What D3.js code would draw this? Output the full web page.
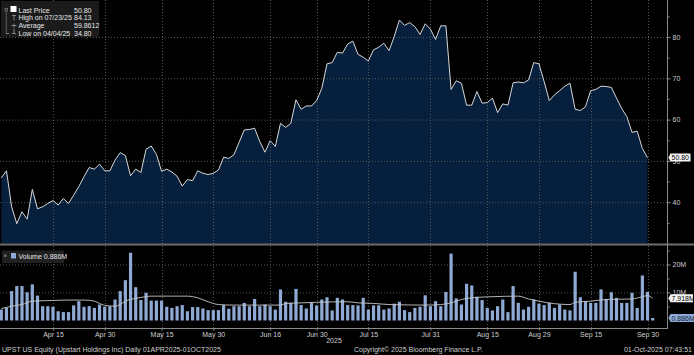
<!DOCTYPE html>
<html>
<head>
<meta charset="utf-8" />
<title>UPST US Equity</title>
<style>
    body { margin: 0; background: #000; }
    svg { display: block; }
    text {
        font-family: "Liberation Sans Narrow", "Liberation Sans", Arial, sans-serif;
        font-size: 7px;
        fill: #cfcfcf;
    }
    .grid line { stroke: #555; stroke-dasharray: 1,2; }
    .axis path { display: none; }
    .axis line { stroke: #8a8a8a; }
</style>
<script src="https://d3js.org/d3.v7.min.js"></script>
</head>
<body>
<script>

// closing prices, 01-Apr-2025 .. 30-Sep-2025 (one per trading day)
let price = [
    45.9, 47.6, 38.9, 34.8, 37.7, 35.9, 43.1, 38.4, 38.9, 39.7,
    40.4, 39.3, 40.9, 39.7, 41.7, 43.8, 46.2, 48.4, 48.0, 49.2,
    47.6, 47.6, 50.2, 52.0, 51.3, 46.4, 48.0, 47.2, 52.8, 53.6,
    51.6, 47.5, 48.0, 47.3, 46.3, 43.9, 45.5, 45.2, 47.6, 47.0,
    46.7, 47.0, 47.8, 50.9, 50.6, 51.5, 54.5, 57.5, 57.6, 57.9,
    54.7, 52.1, 54.9, 53.5, 59.1, 58.1, 59.1, 64.8, 62.5, 63.3,
    63.3, 64.6, 67.6, 73.5, 73.8, 76.3, 76.1, 78.3, 79.0, 75.8,
    75.1, 74.2, 76.9, 77.5, 78.5, 76.7, 80.1, 84.13, 82.8, 83.5,
    82.5, 80.6, 83.2, 81.9, 79.4, 82.7, 82.7, 67.3, 69.4, 68.8,
    63.5, 63.5, 66.8, 64.0, 64.1, 65.2, 61.7, 63.8, 63.5, 68.9,
    69.1, 68.9, 69.6, 73.8, 73.5, 69.2, 64.6, 66.0, 67.0, 68.1,
    68.8, 62.5, 62.2, 63.1, 67.0, 67.3, 68.1, 68.0, 67.8, 65.2,
    62.7, 60.7, 56.9, 57.2, 53.0, 50.80
];

// volume in millions, 01-Apr-2025 .. 01-Oct-2025
let volume = [
    3.9, 4.5, 10.5, 12.3, 12.3, 10.1, 12.9, 8.9, 5.1, 5.1,
    4.9, 3.3, 3.0, 3.0, 5.4, 6.9, 4.9, 5.1, 4.5, 5.7,
    4.9, 5.1, 7.5, 10.5, 14.4, 24.2, 11.9, 7.3, 9.9, 7.1,
    7.1, 7.1, 4.9, 4.5, 5.1, 5.5, 3.3, 4.8, 4.8, 4.3,
    3.7, 3.7, 3.7, 5.5, 4.2, 5.1, 5.1, 6.3, 5.1, 7.7,
    5.1, 5.7, 5.1, 3.9, 11.1, 6.7, 6.3, 11.3, 5.5, 4.3,
    6.3, 5.4, 7.5, 8.3, 3.6, 8.1, 7.5, 5.5, 5.5, 5.4,
    8.1, 3.9, 5.4, 5.4, 3.9, 4.3, 6.0, 6.7, 3.7, 3.0,
    4.5, 4.9, 9.0, 5.1, 6.9, 5.1, 10.2, 23.9, 7.9, 5.7,
    13.1, 12.5, 8.5, 7.3, 4.5, 3.6, 5.1, 7.5, 3.0, 12.3,
    6.3, 3.9, 4.9, 7.5, 6.0, 5.5, 6.3, 4.5, 5.7, 3.9,
    3.6, 17.4, 8.3, 6.9, 6.3, 6.3, 11.1, 7.7, 10.1, 8.1,
    6.3, 6.3, 9.9, 4.5, 16.1, 10.2, 0.886
];

// volume moving average at some days (index into trading days)
let maIdx = [0, 2, 4, 6, 9, 13, 16, 18, 19, 20, 22, 23, 24, 26, 28, 29, 32, 36, 38, 40,
    42, 45, 51, 54, 55, 58, 61, 67, 69, 72, 75, 82, 85, 87, 89, 91, 95, 100, 102, 104,
    107, 110, 111, 114, 117, 122, 124, 125, 126];
let maVol = [4.3, 5.1, 5.7, 6.9, 7.1, 7.3, 7.3, 6.9, 6.1, 5.4, 5.1, 5.7, 6.9, 7.9, 8.5, 8.7, 8.7, 8.7, 8.1, 6.7,
    5.7, 5.5, 5.5, 5.5, 6.1, 6.3, 6.5, 6.7, 6.3, 6.1, 5.7, 5.5, 5.7, 6.3, 7.5, 8.1, 8.5, 8.7, 7.7, 6.9,
    6.0, 5.7, 6.5, 6.9, 7.5, 7.7, 8.5, 8.9, 7.918];

let holidays = ["2025-04-18", "2025-05-26", "2025-06-19", "2025-07-04", "2025-09-01"];

let tickDates = ["2025-04-15", "2025-04-30", "2025-05-15", "2025-05-30", "2025-06-16", "2025-06-30",
    "2025-07-15", "2025-07-31", "2025-08-15", "2025-08-29", "2025-09-15", "2025-09-30"];
let tickLabels = ["Apr 15", "Apr 30", "May 15", "May 30", "Jun 16", "Jun 30",
    "Jul 15", "Jul 31", "Aug 15", "Aug 29", "Sep 15", "Sep 30"];

let priceTicks = [40, 50, 60, 70, 80];
let priceMinor = [35, 45, 55, 65, 75, 85];
let volTicks = [10, 20];
let volMinor = [5, 15, 25];

let legendRows = [
    ["Last Price", "50.80"],
    ["High on 07/23/25", "84.13"],
    ["Average", "59.8612"],
    ["Low on 04/04/25", "34.80"]
];

// trading days
let fmt = d3.utcFormat("%Y-%m-%d");
let dates = d3.utcDay.range(new Date(Date.UTC(2025, 3, 1)), new Date(Date.UTC(2025, 9, 2)))
    .filter(d => d.getUTCDay() % 6 !== 0 && holidays.indexOf(fmt(d)) < 0)
    .map(fmt);

let W = 694, H = 355;
let axisX = 667;
let priceBottom = 243.5;
let bottomY = 328;

let x = d3.scalePoint().domain(dates).range([1.3, 652.7]);
let yP = d3.scaleLinear().domain([30, 80]).range([priceBottom, 37]);
let yV = d3.scaleLinear().domain([0, 20]).range([320.5, 264.5]);

let svg = d3.select("body").append("svg")
    .attr("width", W)
    .attr("height", H)
    .style("background", "#000");

// price area
let area = d3.area()
    .x((d, i) => x(dates[i]))
    .y0(priceBottom)
    .y1(d => yP(d));

svg.append("path")
    .datum(price)
    .attr("d", area)
    .attr("fill", "#061f3d");

// grid
let grid = svg.append("g").attr("class", "grid");
grid.selectAll("line.h")
    .data(priceTicks)
    .enter().append("line")
    .attr("class", "h")
    .attr("x1", 0).attr("x2", axisX)
    .attr("y1", d => yP(d) + 0.5).attr("y2", d => yP(d) + 0.5);
grid.selectAll("line.hv")
    .data(volTicks)
    .enter().append("line")
    .attr("class", "hv")
    .attr("x1", 0).attr("x2", axisX)
    .attr("y1", d => yV(d) + 0.5).attr("y2", d => yV(d) + 0.5);
grid.selectAll("line.v")
    .data(tickDates)
    .enter().append("line")
    .attr("class", "v")
    .attr("x1", d => Math.round(x(d)) + 0.5).attr("x2", d => Math.round(x(d)) + 0.5)
    .attr("y1", 0).attr("y2", bottomY);

// price line
let line = d3.line()
    .x((d, i) => x(dates[i]))
    .y(d => yP(d));

svg.append("path")
    .datum(price)
    .attr("d", line)
    .attr("fill", "none")
    .attr("stroke", "#d8d8d8")
    .attr("stroke-width", 1);

// panel separator
svg.append("line")
    .attr("x1", 0).attr("x2", W)
    .attr("y1", 244.5).attr("y2", 244.5)
    .attr("stroke", "#6e6e6e")
    .attr("stroke-width", 2);

// volume bars
svg.selectAll("rect.vol")
    .data(volume)
    .enter().append("rect")
    .attr("class", "vol")
    .attr("x", (d, i) => x(dates[i]) - 1.6)
    .attr("width", 3.2)
    .attr("y", d => yV(d))
    .attr("height", d => yV(0) - yV(d))
    .attr("fill", "#8eaad4");

// volume average
let maLine = d3.line()
    .curve(d3.curveMonotoneX)
    .x((d, i) => x(dates[maIdx[i]]))
    .y(d => yV(d));

svg.append("path")
    .datum(maVol)
    .attr("d", maLine)
    .attr("fill", "none")
    .attr("stroke", "#c8c8c8")
    .attr("stroke-width", 0.9);

// right axis
svg.append("line")
    .attr("x1", axisX + 0.5).attr("x2", axisX + 0.5)
    .attr("y1", 0).attr("y2", bottomY)
    .attr("stroke", "#8a8a8a");

svg.append("g")
    .attr("class", "axis")
    .attr("transform", "translate(" + (axisX + 0.5) + ",0)")
    .call(d3.axisRight(yP).tickValues(priceTicks).tickSize(3).tickPadding(2));

svg.append("g")
    .attr("class", "axis")
    .attr("transform", "translate(" + (axisX + 0.5) + ",0)")
    .call(d3.axisRight(yP).tickValues(priceMinor).tickSize(2).tickFormat(""));

svg.append("g")
    .attr("class", "axis")
    .attr("transform", "translate(" + (axisX + 0.5) + ",0)")
    .call(d3.axisRight(yV).tickValues(volTicks).tickSize(3).tickPadding(2)
        .tickFormat(d => d + "M"));

svg.append("g")
    .attr("class", "axis")
    .attr("transform", "translate(" + (axisX + 0.5) + ",0)")
    .call(d3.axisRight(yV).tickValues(volMinor).tickSize(2).tickFormat(""));

// bottom axis
svg.append("line")
    .attr("x1", 0).attr("x2", axisX + 1)
    .attr("y1", bottomY + 0.5).attr("y2", bottomY + 0.5)
    .attr("stroke", "#8a8a8a");

svg.append("g")
    .attr("class", "axis")
    .attr("transform", "translate(0," + (bottomY + 0.5) + ")")
    .call(d3.axisBottom(x).tickValues(tickDates).tickSize(2).tickPadding(2)
        .tickFormat((d, i) => tickLabels[i]));

svg.append("text")
    .attr("x", 334).attr("y", 343)
    .attr("text-anchor", "middle")
    .text("2025");

// value tags on the right
function tag(y, label, bg, fg, w) {
    let g = svg.append("g");
    g.append("path")
        .attr("d", "M" + (axisX + 1.5) + "," + y + "L" + (axisX + 3.5) + "," + (y - 4) +
            "H" + (axisX + 3.5 + w) + "V" + (y + 4) + "H" + (axisX + 3.5) + "Z")
        .attr("fill", bg);
    g.append("text")
        .attr("x", axisX + 4.5).attr("y", y + 2.6)
        .style("fill", fg)
        .text(label);
}
tag(yP(price[price.length - 1]), "50.80", "#f4f4f4", "#000", 20);
tag(yV(maVol[maVol.length - 1]), "7.918M", "#f4f4f4", "#000", 22.5);
tag(yV(volume[volume.length - 1]), "0.886M", "#8eaad4", "#0a1e3a", 23.5);

// price legend
let leg = svg.append("g");
leg.append("rect")
    .attr("x", 1).attr("y", 1).attr("width", 98).attr("height", 36)
    .attr("fill", "#1b1b1b");
leg.append("rect")
    .attr("x", 5).attr("y", 8.5).attr("width", 2.5).attr("height", 2.5)
    .attr("fill", "none").attr("stroke", "#888").attr("stroke-width", 0.7);
leg.append("line")
    .attr("x1", 6.3).attr("x2", 6.3).attr("y1", 11).attr("y2", 34)
    .attr("stroke", "#777").attr("stroke-width", 0.7);
leg.append("rect")
    .attr("x", 10.5).attr("y", 6).attr("width", 6).attr("height", 6)
    .attr("fill", "#fff");
leg.append("path")
    .attr("d", "M12,15.5H16M14,15.5V20.5M11.5,25.5H16.5M14,23.5V27.5M12,33.5H16M14,28.5V33.5M6.3,33.5H9")
    .attr("fill", "none").attr("stroke", "#aaa").attr("stroke-width", 0.7);

leg.selectAll("text.lab")
    .data(legendRows)
    .enter().append("text")
    .attr("class", "lab")
    .attr("x", 18.5)
    .attr("y", (d, i) => 12.5 + i * 7.8)
    .style("fill", "#e6e6e6")
    .text(d => d[0]);
leg.selectAll("text.val")
    .data(legendRows)
    .enter().append("text")
    .attr("class", "val")
    .attr("x", 74)
    .attr("y", (d, i) => 12.5 + i * 7.8)
    .style("fill", "#e6e6e6")
    .text(d => d[1]);

// volume legend
let vleg = svg.append("g");
vleg.append("rect")
    .attr("x", 2).attr("y", 250.5).attr("width", 62).attr("height", 12.5)
    .attr("fill", "#202020");
vleg.append("rect")
    .attr("x", 4.2).attr("y", 254.5).attr("width", 2.2).attr("height", 2.4)
    .attr("fill", "#777");
vleg.append("rect")
    .attr("x", 11).attr("y", 253).attr("width", 5).attr("height", 5.5)
    .attr("fill", "#8eaad4");
vleg.append("text")
    .attr("x", 18.5).attr("y", 258.8)
    .style("fill", "#e6e6e6")
    .text("Volume 0.886M");

// footer
svg.append("text")
    .attr("x", 2).attr("y", 352)
    .text("UPST US Equity (Upstart Holdings Inc) Daily 01APR2025-01OCT2025");
svg.append("text")
    .attr("x", 354).attr("y", 352)
    .text("Copyright\u00a9 2025 Bloomberg Finance L.P.");
svg.append("text")
    .attr("x", 692).attr("y", 352)
    .attr("text-anchor", "end")
    .text("01-Oct-2025 07:43:51");

</script>
</body>
</html>
